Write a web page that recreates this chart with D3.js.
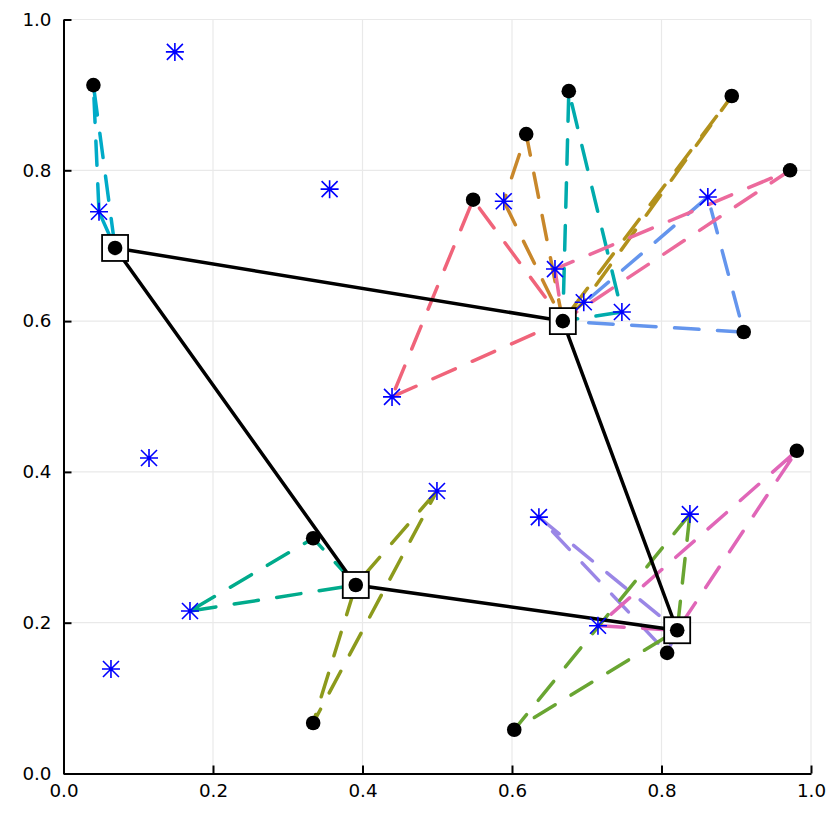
<!DOCTYPE html>
<html>
<head>
<meta charset="utf-8">
<script src="https://cdn.jsdelivr.net/npm/d3@7"></script>
<style>
  html, body { margin: 0; padding: 0; background: #fff; }
  svg { display: block; }
  text { font-family: "DejaVu Sans", sans-serif; }
</style>
</head>
<body>
<div id="chart"></div>
<script>
// Facility sites, visited points and candidate points
const depotX = [0.069, 0.668, 0.821, 0.391];
const depotY = [0.697, 0.600, 0.190, 0.250];
const tour = [0, 1, 2, 3, 0];

const clientX = [0.040, 0.548, 0.619, 0.676, 0.894, 0.972, 0.910, 0.981, 0.8075, 0.603, 0.334, 0.334];
const clientY = [0.913, 0.761, 0.848, 0.905, 0.8985, 0.800, 0.5855, 0.428, 0.160, 0.058, 0.067, 0.312];

const starX = [0.149, 0.356, 0.0475, 0.589, 0.862, 0.6575, 0.696, 0.747, 0.4395, 0.1144, 0.4996, 0.636, 0.838, 0.715, 0.1692, 0.0635];
const starY = [0.957, 0.775, 0.745, 0.759, 0.7645, 0.669, 0.625, 0.612, 0.4995, 0.4185, 0.3747, 0.340, 0.344, 0.196, 0.2155, 0.1386];

// each route: depot index, star index, client index
const routes = [
    [0, 2, 0],
    [1, 8, 1],
    [1, 3, 2],
    [1, 6, 4],
    [1, 7, 3],
    [1, 4, 6],
    [1, 5, 5],
    [2, 11, 8],
    [2, 13, 7],
    [2, 12, 9],
    [3, 14, 11],
    [3, 10, 10]
];
const routeColors = ['#00abc8', '#f0647a', '#c8872a', '#b2911c', '#00abad', '#6495ed',
    '#ec6a9c', '#9a86e6', '#e066b8', '#69a532', '#00ab8c', '#8c9a1c'];

const xTicks = [0, 0.2, 0.4, 0.6, 0.8, 1.0];
const yTicks = [0, 0.2, 0.4, 0.6, 0.8, 1.0];

const width = 830;
const height = 830;
const margin = { top: 19.5, right: 19, bottom: 56.5, left: 63.5 };

const svg = d3.select('#chart')
    .append('svg')
    .attr('width', width)
    .attr('height', height);

const xScale = d3.scaleLinear()
    .domain([0, 1])
    .range([margin.left, width - margin.right]);

const yScale = d3.scaleLinear()
    .domain([0, 1])
    .range([height - margin.bottom, margin.top]);

// Grid lines
svg.append('g')
    .selectAll('line')
    .data(xTicks)
    .enter()
    .append('line')
    .attr('x1', d => xScale(d))
    .attr('x2', d => xScale(d))
    .attr('y1', yScale(0))
    .attr('y2', yScale(1))
    .attr('stroke', '#e9e9e9')
    .attr('stroke-width', 1.2);

svg.append('g')
    .selectAll('line')
    .data(yTicks)
    .enter()
    .append('line')
    .attr('x1', xScale(0))
    .attr('x2', xScale(1))
    .attr('y1', d => yScale(d))
    .attr('y2', d => yScale(d))
    .attr('stroke', '#e9e9e9')
    .attr('stroke-width', 1.2);

// Dashed routes, each one drawn star -> depot -> client -> star
const line = d3.line().x(d => xScale(d[0])).y(d => yScale(d[1]));

svg.append('g')
    .selectAll('path')
    .data(routes)
    .enter()
    .append('path')
    .attr('d', r => line([
        [starX[r[1]], starY[r[1]]],
        [depotX[r[0]], depotY[r[0]]],
        [clientX[r[2]], clientY[r[2]]],
        [starX[r[1]], starY[r[1]]]
    ]))
    .attr('fill', 'none')
    .attr('stroke', (r, i) => routeColors[i])
    .attr('stroke-width', 3.5)
    .attr('stroke-linecap', 'round')
    .attr('stroke-linejoin', 'round')
    .attr('stroke-dasharray', '24.5,18.5')
    .attr('stroke-dashoffset', -1.75);

// Tour between depots
svg.append('path')
    .attr('d', line(tour.map(i => [depotX[i], depotY[i]])))
    .attr('fill', 'none')
    .attr('stroke', '#000')
    .attr('stroke-width', 3.5);

// Axes
const xAxis = svg.append('g')
    .attr('transform', `translate(0,${yScale(0)})`)
    .call(d3.axisBottom(xScale)
        .tickValues(xTicks)
        .tickFormat(d3.format('.1f'))
        .tickSizeInner(-8)
        .tickSizeOuter(0)
        .tickPadding(11));

const yAxis = svg.append('g')
    .attr('transform', `translate(${xScale(0)},0)`)
    .call(d3.axisLeft(yScale)
        .tickValues(yTicks)
        .tickFormat(d3.format('.1f'))
        .tickSizeInner(-8)
        .tickSizeOuter(0)
        .tickPadding(12));

[xAxis, yAxis].forEach(axis => {
    axis.selectAll('.domain').attr('stroke', '#000').attr('stroke-width', 2);
    axis.selectAll('.tick line').attr('stroke', '#000').attr('stroke-width', 2);
    axis.selectAll('text').attr('fill', '#000').style('font-size', '18.3px');
});

// Depot squares
svg.append('g')
    .selectAll('rect')
    .data(depotX)
    .enter()
    .append('rect')
    .attr('x', d => xScale(d) - 13)
    .attr('y', (d, i) => yScale(depotY[i]) - 13)
    .attr('width', 26)
    .attr('height', 26)
    .attr('fill', '#fff')
    .attr('stroke', '#000')
    .attr('stroke-width', 1.8);

// Black dots
svg.append('g')
    .selectAll('circle')
    .data(depotX.concat(clientX))
    .enter()
    .append('circle')
    .attr('cx', d => xScale(d))
    .attr('cy', (d, i) => yScale(depotY.concat(clientY)[i]))
    .attr('r', 7.3)
    .attr('fill', '#000');

// Blue stars
svg.append('g')
    .selectAll('path')
    .data(starX)
    .enter()
    .append('path')
    .attr('transform', (d, i) => `translate(${xScale(d)},${yScale(starY[i])})`)
    .attr('d', 'M-9,0H9M0,-9V9M-8,-8L8,8M-8,8L8,-8')
    .attr('fill', 'none')
    .attr('stroke', '#0000ff')
    .attr('stroke-width', 1.6);
</script>
</body>
</html>
